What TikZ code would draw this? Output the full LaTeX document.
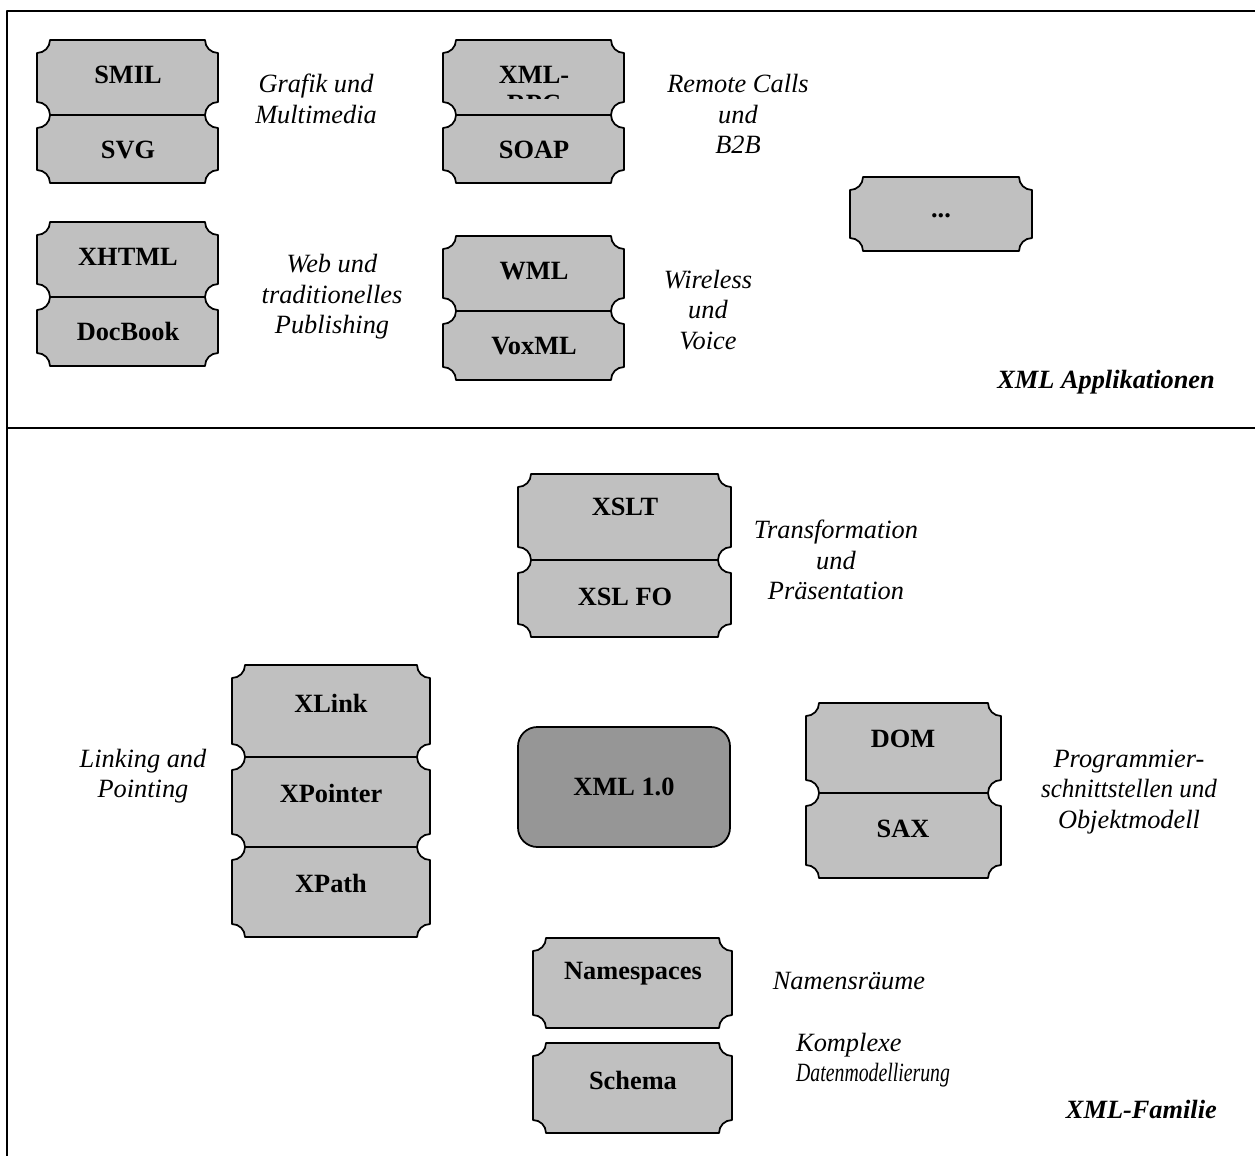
\documentclass[tikz,border=0pt]{standalone}
\usepackage{fontspec}
\setmainfont{Liberation Serif}

\definecolor{boxgray}{HTML}{C0C0C0}
\definecolor{coregray}{HTML}{969696}

\begin{document}
\begin{tikzpicture}[x = .02cm, y = .02cm, line join = round, line cap = round,
  ticket/.style = {draw, line width = 1pt, fill = boxgray},
  boxlabel/.style = {font = \fontsize{15}{17.3}\selectfont\bfseries},
  remark/.style = {font = \fontsize{15}{17.3}\selectfont\itshape,
    align = center}]
  \clip (0, 0) rectangle (1255, -1156);

  \def\rad{13}
  % left, top, right, bottom
  \def\ticket#1#2#3#4{%
    \filldraw[ticket] (#1+\rad, #2) -- (#3-\rad, #2) arc (180:270:\rad)
    -- (#3, #4+\rad) arc (90:180:\rad) -- (#1+\rad, #4) arc (0:90:\rad)
    -- (#1, #2-\rad) arc (270:360:\rad) -- cycle;}

  % frame
  \draw[line width = 1pt] (1300, -11) -- (7, -11) -- (7, -1200);
  \draw[line width = 1pt] (7, -428) -- (1300, -428);

  % XML Applikationen
  \ticket{37}{-40}{218}{-115}
  \ticket{37}{-115}{218}{-183}
  \node[boxlabel] (smil) at (128, -75) {SMIL};
  \node[boxlabel] (svg) at (128, -150) {SVG};
  \node[remark] (grafik) at (316, -99) {Grafik und\\Multimedia};

  \ticket{443}{-40}{624}{-115}
  \ticket{443}{-115}{624}{-183}
  \node[boxlabel] (xmlrpc) at (534, -75) {XML-};
  \begin{scope}
    \clip (443, -40) rectangle (624, -98.5);
    \node[boxlabel] (rpc) at (534, -104) {RPC};
  \end{scope}
  \node[boxlabel] (soap) at (534, -150) {SOAP};
  \node[remark] (remote) at (738, -114) {Remote Calls\\und\\B2B};

  \ticket{37}{-222}{218}{-297}
  \ticket{37}{-297}{218}{-366}
  \node[boxlabel] (xhtml) at (128, -257) {XHTML};
  \node[boxlabel] (docbook) at (128, -331) {DocBook};
  \node[remark] (web) at (332, -297) {Web und\\traditionelles\\Publishing};

  \ticket{443}{-236}{624}{-311}
  \ticket{443}{-311}{624}{-380}
  \node[boxlabel] (wml) at (534, -271) {WML};
  \node[boxlabel] (voxml) at (534, -346) {VoxML};
  \node[remark] (wireless) at (708, -310) {Wireless\\und\\Voice};

  \ticket{850}{-177}{1032}{-251}
  \node[boxlabel] (more) at (941, -216) {...};

  \node[remark, font = \fontsize{15}{17.3}\selectfont\bfseries\itshape,
  anchor = east] (appl) at (1221, -382) {XML Applikationen};

  % XML-Familie
  \ticket{518}{-474}{731}{-560}
  \ticket{518}{-560}{731}{-637}
  \node[boxlabel] (xslt) at (625, -507) {XSLT};
  \node[boxlabel] (xslfo) at (625, -597) {XSL FO};
  \node[remark] (transf) at (836, -560) {Transformation\\und\\Präsentation};

  \ticket{232}{-665}{430}{-757}
  \ticket{232}{-757}{430}{-847}
  \ticket{232}{-847}{430}{-937}
  \node[boxlabel] (xlink) at (331, -703) {XLink};
  \node[boxlabel] (xpointer) at (331, -793) {XPointer};
  \node[boxlabel] (xpath) at (331, -883) {XPath};
  \node[remark] (linking) at (143, -776) {Linking and\\Pointing};

  \filldraw[ticket, fill = coregray, rounded corners = 11pt]
  (518, -727) rectangle (730, -847);
  \node[boxlabel] (xml) at (624, -787) {XML 1.0};

  \ticket{806}{-703}{1001}{-793}
  \ticket{806}{-793}{1001}{-878}
  \node[boxlabel] (dom) at (903, -739) {DOM};
  \node[boxlabel] (sax) at (903, -829) {SAX};
  \node[remark] (api) at (1129, -792)
  {Programmier-\\\scalebox{.95}[1]{schnittstellen und}\\Objektmodell};

  \ticket{533}{-938}{732}{-1028}
  \ticket{533}{-1043}{732}{-1133}
  \node[boxlabel] (ns) at (633, -974) {Namespaces};
  \node[boxlabel] (schema) at (633, -1080) {Schema};
  \node[remark] (nsnote) at (849, -981) {Namensräume};
  \node[remark, align = left, anchor = west] (schemanote) at (790, -1060)
  {Komplexe\\\scalebox{.75}[1]{Datenmodellierung}};

  \node[remark, font = \fontsize{15}{17.3}\selectfont\bfseries\itshape,
  anchor = east] (family) at (1223, -1109) {XML-Familie};
\end{tikzpicture}
\end{document}
